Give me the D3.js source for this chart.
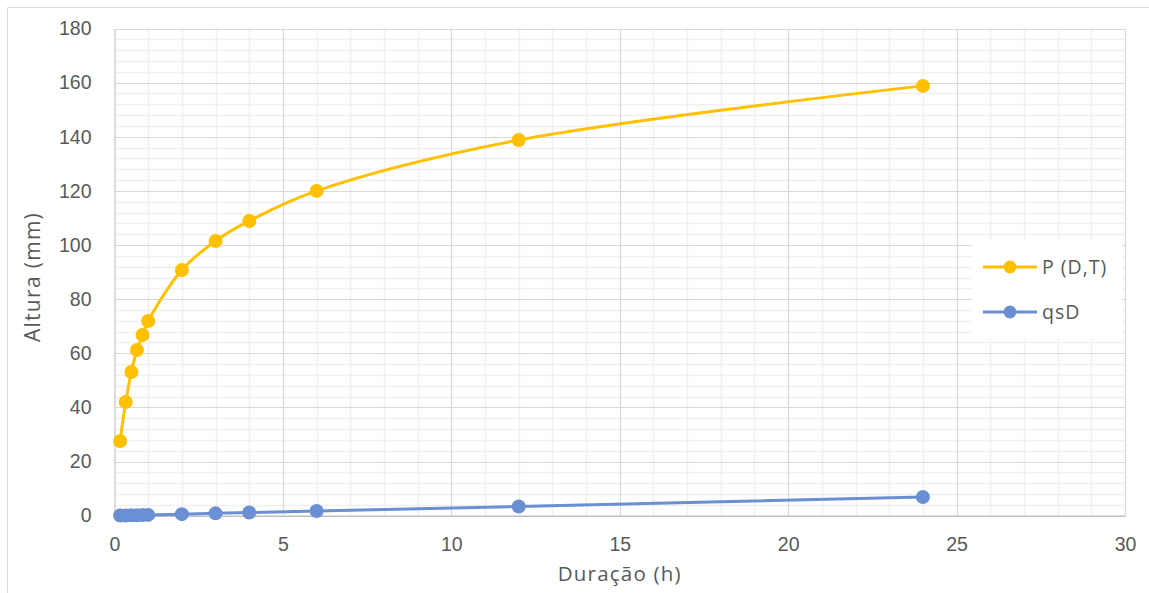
<!DOCTYPE html>
<html>
<head>
<meta charset="utf-8">
<script src="https://cdn.jsdelivr.net/npm/d3@7"></script>
<style>
  html, body { margin: 0; padding: 0; background: #fff; }
  svg { display: block; font-family: "Open Sans", "Noto Sans", sans-serif; }
</style>
</head>
<body>
<svg id="chart" width="1149" height="593"></svg>
<script>
// Duração (h) das chuvas
const durations = [1/6, 2/6, 3/6, 4/6, 5/6, 1, 2, 3, 4, 6, 12, 24];
// Altura de precipitação P (D,T), mm
const precip = [27.6, 42.0, 53.1, 61.2, 66.8, 71.9, 90.8, 101.5, 108.9, 120.0, 138.8, 158.8];
// qsD, mm
const qsD = [0.05, 0.10, 0.15, 0.19, 0.24, 0.29, 0.58, 0.87, 1.16, 1.74, 3.4, 6.9];

const seriesNames = ["P (D,T)", "qsD"];
const seriesColors = ["#FFC000", "#6A8FD2"];

const xTicks = [0, 5, 10, 15, 20, 25, 30];
const yTicks = [0, 20, 40, 60, 80, 100, 120, 140, 160, 180];
const xTitle = "Duração (h)";
const yTitle = "Altura (mm)";

const svg = d3.select("#chart");
const W = 1149, H = 593;
const plot = { left: 114.5, right: 1125, top: 28.5, bottom: 515.7 };
const tickFont = 19.5;

// chart area frame
svg.append("path")
  .attr("d", `M7.5,${H} L7.5,7.5 L${W},7.5`)
  .attr("fill", "none").attr("stroke", "#D9D9D9").attr("stroke-width", 1);

const x = d3.scaleLinear().domain([0, 30]).range([plot.left, plot.right]);
const y = d3.scaleLinear().domain([0, 180]).range([plot.bottom, plot.top]);

const grid = svg.append("g");
// minor gridlines
grid.selectAll("line.vminor").data(d3.range(0, 31, 1).filter(v => v % 5 !== 0))
  .join("line")
  .attr("x1", d => Math.round(x(d)) + 0.5).attr("x2", d => Math.round(x(d)) + 0.5)
  .attr("y1", plot.top).attr("y2", plot.bottom)
  .attr("stroke", "#F0F0F0").attr("stroke-width", 1.5);
grid.selectAll("line.hminor").data(d3.range(0, 181, 4).filter(v => v % 20 !== 0))
  .join("line")
  .attr("y1", d => Math.round(y(d)) + 0.5).attr("y2", d => Math.round(y(d)) + 0.5)
  .attr("x1", plot.left).attr("x2", plot.right)
  .attr("stroke", "#F0F0F0").attr("stroke-width", 1.5);
// major gridlines
grid.selectAll("line.vmajor").data(xTicks.slice(1))
  .join("line")
  .attr("x1", d => Math.round(x(d)) + 0.5).attr("x2", d => Math.round(x(d)) + 0.5)
  .attr("y1", plot.top).attr("y2", plot.bottom)
  .attr("stroke", "#D9D9D9").attr("stroke-width", 1.2);
grid.selectAll("line.hmajor").data(yTicks.slice(1))
  .join("line")
  .attr("y1", d => Math.round(y(d)) + 0.5).attr("y2", d => Math.round(y(d)) + 0.5)
  .attr("x1", plot.left).attr("x2", plot.right)
  .attr("stroke", "#D9D9D9").attr("stroke-width", 1.2);

// axes
const xAxis = d3.axisBottom(x).tickValues(xTicks).tickSize(0).tickPadding(21);
const yAxis = d3.axisLeft(y).tickValues(yTicks).tickSize(0).tickPadding(23);

const gx = svg.append("g").attr("transform", `translate(0,${plot.bottom})`).call(xAxis);
gx.select(".domain").attr("stroke", "#BFBFBF").attr("stroke-width", 1.5);
gx.selectAll("text").attr("fill", "#595959").attr("font-size", tickFont);

const gy = svg.append("g").attr("transform", `translate(${plot.left},0)`).call(yAxis);
gy.select(".domain").attr("stroke", "#D0D0D0").attr("stroke-width", 1.5);
gy.selectAll("text").attr("fill", "#595959").attr("font-size", tickFont);

// axis titles
svg.append("text")
  .attr("x", (plot.left + plot.right) / 2).attr("y", 581)
  .attr("text-anchor", "middle").attr("fill", "#595959")
  .attr("font-size", 20.5).attr("letter-spacing", 1.2)
  .text(xTitle);
svg.append("text")
  .attr("transform", `translate(40,277) rotate(-90)`)
  .attr("text-anchor", "middle").attr("fill", "#595959")
  .attr("font-size", 21).attr("letter-spacing", 1.3)
  .text(yTitle);

// series
const series = [precip, qsD].map((vals, i) => ({
  name: seriesNames[i],
  color: seriesColors[i],
  points: durations.map((d, j) => [d, vals[j]])
}));

const line = d3.line()
  .x(d => x(d[0])).y(d => y(d[1]))
  .curve(d3.curveCatmullRom.alpha(0.5));

const gs = svg.append("g").selectAll("g").data(series.slice().reverse()).join("g");
gs.append("path")
  .attr("d", d => line(d.points))
  .attr("fill", "none").attr("stroke", d => d.color)
  .attr("stroke-width", 3).attr("stroke-linejoin", "round").attr("stroke-linecap", "round");
gs.selectAll("circle").data(d => d.points.map(p => ({ p, c: d.color })))
  .join("circle")
  .attr("cx", d => x(d.p[0])).attr("cy", d => y(d.p[1]))
  .attr("r", 7).attr("fill", d => d.c);

// legend
const legend = svg.append("g");
legend.append("rect")
  .attr("x", 972).attr("y", 240).attr("width", 150).attr("height", 99)
  .attr("fill", "#fff");
const li = legend.selectAll("g").data(series).join("g")
  .attr("transform", (d, i) => `translate(983,${267 + i * 45})`);
li.append("line").attr("x1", 0).attr("x2", 54).attr("y1", 0).attr("y2", 0)
  .attr("stroke", d => d.color).attr("stroke-width", 3);
li.append("circle").attr("cx", 27).attr("cy", 0).attr("r", 6.5).attr("fill", d => d.color);
li.append("text").attr("x", 59).attr("y", 0).attr("dy", "0.35em")
  .attr("fill", "#595959").attr("font-size", tickFont).attr("letter-spacing", 1)
  .text(d => d.name);
</script>
</body>
</html>
